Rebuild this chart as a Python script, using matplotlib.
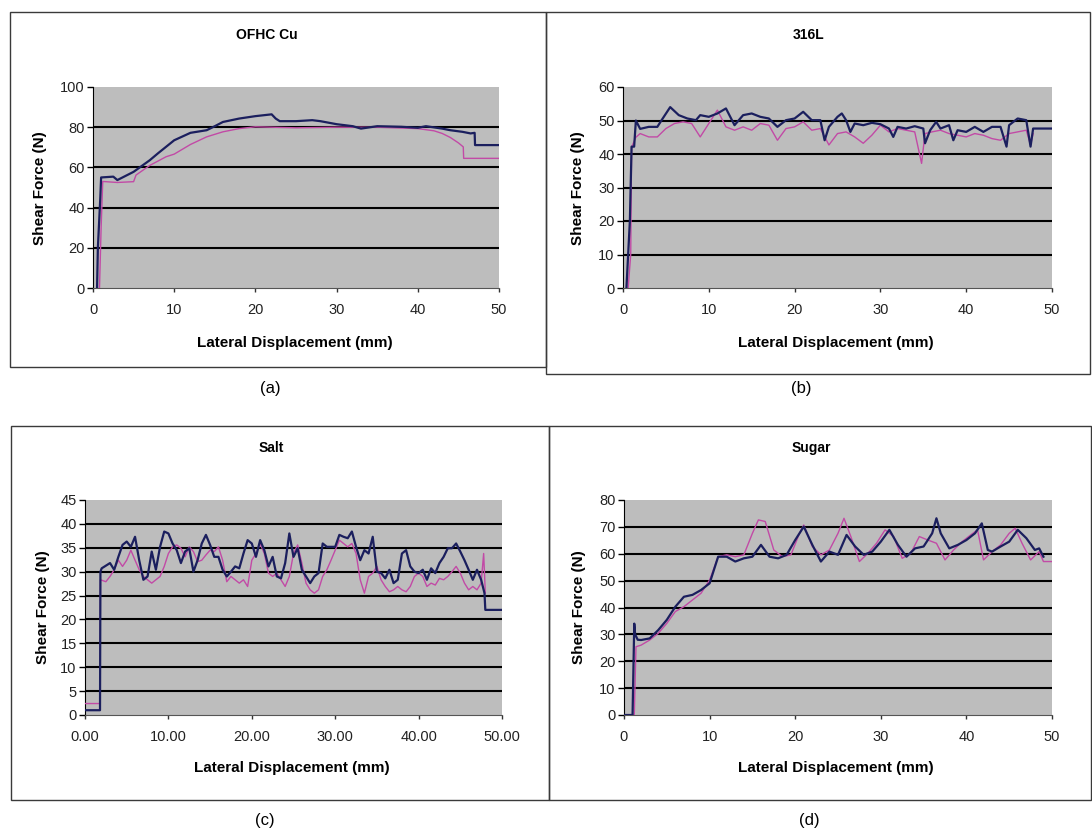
import matplotlib
matplotlib.use("Agg")
import matplotlib.pyplot as plt
from matplotlib.patches import Rectangle

plt.rcParams["font.family"] = ["Liberation Sans", "DejaVu Sans"]

W, H = 1092, 833

# (a) OFHC Cu
cu_x1 = [0.5, 0.6, 0.9, 1.0, 2.5, 3.0, 5, 7, 8, 10, 12, 14, 15, 16, 18, 20, 22, 22.5, 23, 25,
         27, 28, 30, 32, 33, 35, 38, 40, 41, 43, 44, 45.5, 46.5, 47, 47.05, 50]
cu_y1 = [0, 20, 45, 55, 55.4, 53.7, 57.8, 63.6, 67, 73.5, 77.2, 78.5, 80.5, 82.6, 84.3, 85.5, 86.4, 84.3, 83, 83,
         83.5, 83, 81.5, 80.5, 79.3, 80.5, 80.2, 79.7, 80.5, 79.3, 78.5, 77.7, 76.9, 77.2, 71.1, 71.1]
cu_x2 = [0.8, 1.0, 1.2, 3, 5, 5.3, 7, 9, 10, 12, 14, 16, 18, 20, 25, 30, 35, 40, 42, 43, 44, 45, 45.6, 45.65, 50]
cu_y2 = [0, 30, 53, 52.5, 52.9, 56.2, 61, 65.3, 66.6, 71.4, 75.2, 77.7, 79.3, 80.2, 79.7, 80, 80, 79.3, 78.2,
         76.9, 74.9, 72.2, 70.2, 64.5, 64.5]

# (b) 316L
ss_x1 = [0.4, 0.8, 1.0, 1.3, 1.5, 2, 3, 4, 4.5, 5.5, 6.5, 7.5, 8.5, 9, 10, 11, 12, 13, 14, 15, 16, 17, 18, 19,
         20, 21, 22, 23, 23.5, 24, 25, 25.5, 26, 26.5, 27, 28, 29, 30, 31, 31.5, 32, 33, 34, 35, 35.2, 35.8,
         36.5, 37, 38, 38.5, 39, 40, 41, 42, 43, 44, 44.7, 45, 46, 47, 47.5, 47.8, 50]
ss_y1 = [0, 20, 42.2, 42.2, 50, 47.5, 48.1, 48.1, 50.1, 54, 51.6, 50.6, 50.1, 51.6, 51.1, 52.1, 53.6, 48.6,
         51.6, 52.1, 51.1, 50.6, 48.1, 50.1, 50.6, 52.6, 50.1, 50.1, 44.1, 48.1, 51.1, 52.1, 50.1, 46.6, 49.1,
         48.6, 49.3, 48.9, 47.6, 45.1, 48.1, 47.6, 48.3, 47.6, 43.2, 47.1, 49.6, 47.6, 48.6, 44.1, 47.1, 46.6,
         48.1, 46.6, 48.1, 48.1, 42.2, 48.6, 50.6, 50.1, 42.2, 47.6, 47.6]
ss_x2 = [0.6, 0.9, 1.0, 1.5, 2, 3, 4, 5, 6, 7, 8, 9, 10, 11, 12, 13, 14, 15, 16, 17, 18, 19, 20, 21, 22, 23,
         24, 25, 26, 27, 28, 29, 30, 31, 32, 33, 34, 34.8, 35.2, 36, 37, 38, 39, 40, 41, 42, 43, 44, 45, 46,
         47, 47.5, 47.8]
ss_y2 = [0, 10, 42, 45, 46.1, 45.1, 45.1, 47.6, 49.1, 49.6, 49.1, 45.1, 49.1, 53.1, 48.1, 47.1, 48.1, 47.1,
         49.1, 48.6, 44.1, 47.6, 48.1, 49.6, 47.1, 47.6, 42.7, 46.1, 46.6, 45.1, 43.2, 45.6, 48.6, 46.6, 47.6,
         47.1, 46.6, 37.2, 46.1, 46.6, 47.1, 46.1, 45.6, 45.1, 46.1, 45.6, 44.6, 44.1, 46.1, 46.6, 47.1, 42.7,
         46.1]

# (c) Salt
salt_x1 = [0, 1.8, 1.85, 2, 3, 3.5, 4, 4.5, 5, 5.5, 6, 6.5, 7, 7.5, 8, 8.5, 9, 9.5, 10, 10.5, 11, 11.5, 12,
           12.5, 13, 13.5, 14, 14.5, 15, 15.5, 16, 16.5, 17, 17.5, 18, 18.5, 19, 19.5, 20, 20.5, 21, 21.5,
           22, 22.5, 23, 23.5, 24, 24.5, 25, 25.5, 26, 26.5, 27, 27.5, 28, 28.5, 29, 29.5, 30, 30.5, 31,
           31.5, 32, 32.5, 33, 33.5, 34, 34.5, 35, 35.5, 36, 36.5, 37, 37.5, 38, 38.5, 39, 39.5, 40, 40.5,
           41, 41.5, 42, 42.5, 43, 43.5, 44, 44.5, 45, 45.5, 46, 46.5, 47, 47.5, 47.9, 48.0, 50]
salt_y1 = [1.0, 1.0, 30, 30.7, 31.8, 30.4, 33.1, 35.6, 36.3, 35.2, 37.3, 32.4, 28.3, 29, 34.2, 30.4, 35.2,
           38.4, 38, 35.9, 34.5, 31.8, 34.2, 34.9, 30, 32.4, 35.9, 37.7, 35.6, 33.1, 33.1, 30.4, 29, 30, 31.1,
           30.7, 33.8, 36.6, 35.9, 33.1, 36.6, 34.5, 31.1, 33.1, 29, 28.6, 31.8, 38, 33.1, 34.9, 30.4, 29,
           27.6, 29, 29.7, 35.9, 35.2, 35.2, 35.2, 37.7, 37.3, 37, 38.4, 35.2, 32.4, 34.5, 33.8, 37.3, 30,
           29.7, 28.6, 30.4, 27.6, 28.3, 33.8, 34.5, 31.1, 30, 29.7, 30.4, 28.3, 30.7, 29.7, 31.8, 33.1,
           34.9, 34.9, 35.9, 34.2, 32.4, 30.4, 28.3, 30.4, 28.3, 25.5, 22, 22]
salt_x2 = [0, 1.8, 1.85, 2.5, 3, 3.5, 4, 4.5, 5, 5.5, 6, 6.5, 7, 7.5, 8, 8.5, 9, 9.5, 10, 10.5, 11, 11.5,
           12, 12.5, 13, 13.5, 14, 14.5, 15, 15.5, 16, 16.5, 17, 17.5, 18, 18.5, 19, 19.5, 20, 20.5, 21,
           21.5, 22, 22.5, 23, 23.5, 24, 24.5, 25, 25.5, 26, 26.5, 27, 27.5, 28, 28.5, 29, 29.5, 30, 30.5,
           31, 31.5, 32, 32.5, 33, 33.5, 34, 34.5, 35, 35.5, 36, 36.5, 37, 37.5, 38, 38.5, 39, 39.5, 40,
           40.5, 41, 41.5, 42, 42.5, 43, 43.5, 44, 44.5, 45, 45.5, 46, 46.5, 47, 47.5, 47.8, 48]
salt_y2 = [2.4, 2.4, 28.3, 27.9, 29, 30.4, 32.4, 31.1, 32.4, 34.5, 32.4, 30.4, 29, 28.3, 27.6, 28.3, 29,
           31.1, 33.8, 35.2, 35.6, 34.9, 33.1, 35.2, 34.2, 32.1, 32.4, 33.5, 34.5, 34.2, 35.2, 32.4, 27.9,
           29, 28.3, 27.6, 28.3, 26.9, 32.4, 33.8, 35.9, 33.8, 29.7, 29, 29.7, 28.3, 26.9, 29, 33.8, 35.6,
           31.8, 27.6, 26.2, 25.5, 26.2, 29, 30.4, 32.4, 34.5, 36.6, 35.9, 35.2, 35.9, 33.8, 28.3, 25.5, 29,
           29.7, 31.1, 28.3, 26.9, 25.8, 26.2, 26.9, 26.2, 25.8, 26.9, 29, 29.7, 29, 26.9, 27.6, 27.2, 28.6,
           28.3, 29, 30, 31.1, 29.7, 27.6, 26.2, 26.9, 26.2, 27.6, 33.8, 25.5]

# (d) Sugar
sugar_x1 = [0, 1.0, 1.2, 1.3, 1.6, 2, 3, 4, 5, 6, 7, 8, 9, 10, 11, 12, 13, 14, 15, 16, 17, 18, 19, 20, 21,
            22, 23, 24, 25, 26, 27, 28, 29, 30, 31, 32, 33, 34, 35, 36, 36.5, 37, 38, 39, 40, 41, 41.8, 42.5,
            43, 44, 45, 46, 47, 48, 48.5, 49]
sugar_y1 = [0, 0, 34, 30, 28, 27.9, 28.5, 31.6, 35.4, 40.3, 44, 44.7, 46.5, 49, 58.9, 58.9, 57.1, 58.3, 58.9,
            63.3, 58.9, 58.3, 59.6, 65.1, 70.1, 63.3, 57.1, 60.8, 59.6, 67, 62.7, 59.6, 60.8, 64.5, 68.9,
            63.3, 58.9, 62, 62.7, 67.6, 73.2, 67.6, 62, 63.3, 65.1, 67.6, 71.3, 61.4, 60.8, 62.7, 64.5, 68.9,
            65.8, 61.4, 62, 58.9]
sugar_x2 = [0, 1.2, 1.4, 2, 3, 4, 5, 6, 7, 8, 9, 10, 11, 12, 13, 14, 15, 15.7, 16.5, 17.5, 18.5, 19.5, 20.5,
            21, 22, 23, 24, 25, 25.7, 26.5, 27.5, 28.5, 29.5, 30.5, 31.5, 32.5, 33.5, 34.5, 35.5, 36.5, 37.5,
            38.5, 39.5, 40.5, 41.3, 42, 43, 44, 45, 45.7, 46.5, 47.5, 48.5, 49, 50]
sugar_y2 = [0, 0, 25.4, 26, 27.9, 30.4, 34.1, 38.5, 40.3, 42.8, 45.3, 50.2, 58.9, 59.6, 58.9, 59.6, 67.6,
            72.6, 72, 61.4, 58.9, 59.6, 67.6, 70.7, 62.7, 59.6, 61.4, 67.6, 73.2, 66.4, 57.1, 60.2, 63.9,
            68.9, 66.4, 58.3, 60.2, 66.4, 65.1, 63.9, 57.7, 61.4, 64.5, 67, 68.9, 57.7, 60.8, 63.3, 67.6, 69.5,
            63.9, 57.7, 60.8, 57.1, 57.1]

titles = ["OFHC Cu", "316L", "Salt", "Sugar"]
letters = ["(a)", "(b)", "(c)", "(d)"]
y_max = [100, 60, 45, 80]
y_step = [20, 10, 5, 10]

NAVY = "#1b1f5e"
MAGENTA = "#c24aa6"
GREY = "#bdbdbd"


def px_box(l, t, r, b):
    # pixel box -> figure fraction rect
    return [l / W, 1 - b / H, (r - l) / W, (b - t) / H]


fig = plt.figure(figsize=(W / 100, H / 100), dpi=100)

# panel frames
frames = [(10, 12, 546, 367), (546, 12, 1090, 374), (11, 426, 549, 800), (549, 426, 1091, 800)]
for l, t, r, b in frames:
    fig.add_artist(Rectangle((l / W, 1 - b / H), (r - l) / W, (b - t) / H, transform=fig.transFigure,
                             fill=False, edgecolor="#3a3a3a", linewidth=1.0))

plots = [(93, 87, 499, 288), (623, 87, 1052, 288), (85, 500, 502, 715), (624, 500, 1052, 715)]
title_pos = [(267, 35), (809, 35), (271, 448), (811, 448)]
xlab_pos = [(295, 343), (836, 343), (292, 768), (836, 768)]
ylab_pos = [(40, 188), (578, 188), (43, 607), (579, 607)]
letter_pos = [(270, 388), (801, 388), (265, 820), (809, 820)]

series = [(cu_x1, cu_y1, cu_x2, cu_y2), (ss_x1, ss_y1, ss_x2, ss_y2),
          (salt_x1, salt_y1, salt_x2, salt_y2), (sugar_x1, sugar_y1, sugar_x2, sugar_y2)]

for i in range(4):
    ax = fig.add_axes(px_box(*plots[i]))
    ax.set_facecolor(GREY)
    x1, y1, x2, y2 = series[i]
    ax.plot(x2, y2, color=MAGENTA, lw=1.0, zorder=3)
    ax.plot(x1, y1, color=NAVY, lw=1.6, zorder=4)
    ax.set_xlim(0, 50)
    ax.set_ylim(0, y_max[i])
    ax.set_xticks(range(0, 51, 10))
    ax.set_yticks(range(0, y_max[i] + 1, y_step[i]))
    if i == 2:
        ax.set_xticklabels(["%.2f" % v for v in range(0, 51, 10)])
    for v in range(y_step[i], y_max[i], y_step[i]):
        ax.axhline(v, color="black", lw=1.5, zorder=2)
    for s in ["top", "right"]:
        ax.spines[s].set_visible(False)
    ax.spines["left"].set_color("black")
    ax.spines["bottom"].set_color("#555555")
    ax.tick_params(axis="y", direction="out", length=4, width=1, labelsize=10.5, pad=2, colors="black")
    ax.tick_params(axis="x", direction="out", length=3, width=1, labelsize=10.5, pad=8, colors="#333333")
    for lab in ax.get_xticklabels() + ax.get_yticklabels():
        lab.set_color("#222222")

    tx, ty = title_pos[i]
    fig.text(tx / W, 1 - ty / H, titles[i], ha="center", va="center", fontsize=10, fontweight="bold")
    lx, ly = xlab_pos[i]
    fig.text(lx / W, 1 - ly / H, "Lateral Displacement (mm)", ha="center", va="center",
             fontsize=11, fontweight="bold")
    yx, yy = ylab_pos[i]
    fig.text(yx / W, 1 - yy / H, "Shear Force (N)", ha="center", va="center", rotation=90,
             fontsize=11, fontweight="bold")
    ax_, ay_ = letter_pos[i]
    fig.text(ax_ / W, 1 - ay_ / H, letters[i], ha="center", va="center", fontsize=12)

fig.savefig("out.png", dpi=100)
